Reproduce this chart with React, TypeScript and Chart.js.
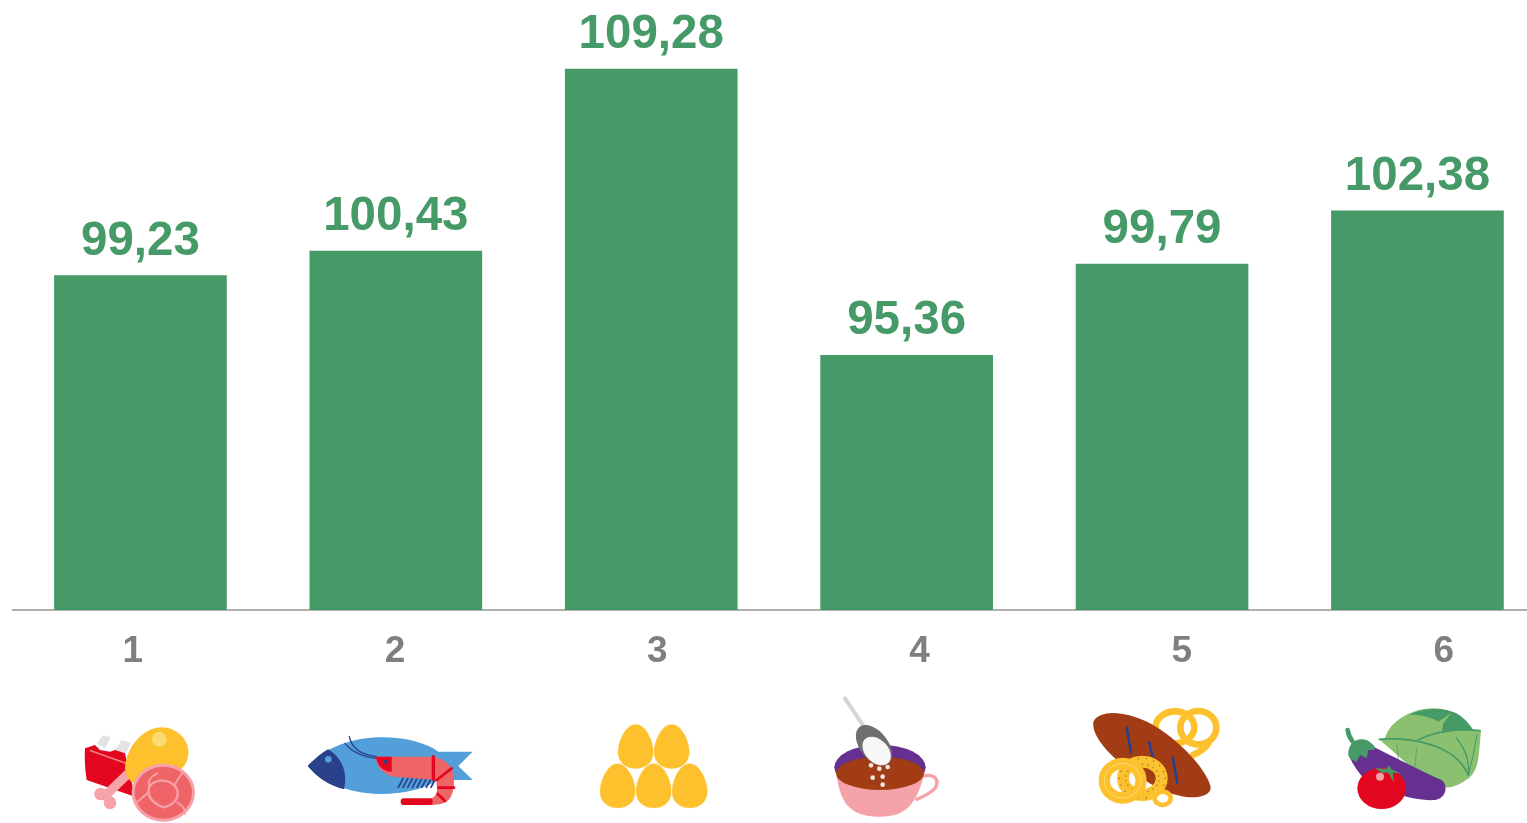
import React, { useEffect, useRef } from "react";
import { Chart, registerables } from "chart.js";

Chart.register(...registerables);

const barPositions = [1, 2, 3, 4, 5, 6];
const barValues = [99.23, 100.43, 109.28, 95.36, 99.79, 102.38];
const tickLabels = [1, 2, 3, 4, 5, 6];

const GREEN = "#469a67";
const GREY = "#7f7f7f";
const YELLOW = "#fdc12d";
const RED = "#e2071f";
const PINK = "#f5a3a8";
const CORAL = "#ee6467";
const BLUE = "#529fd9";
const NAVY = "#29418a";
const BROWN = "#a13c14";
const PURPLE = "#65308f";
const LEAF = "#8ac06f";

type C = CanvasRenderingContext2D;

const fillP = (c: C, d: string, color: string) => {
  c.fillStyle = color;
  c.fill(new Path2D(d));
};
const strokeP = (c: C, d: string, color: string, w: number) => {
  c.strokeStyle = color;
  c.lineWidth = w;
  c.lineCap = "round";
  c.lineJoin = "round";
  c.stroke(new Path2D(d));
};
const circle = (c: C, x: number, y: number, r: number, color: string) => {
  c.fillStyle = color;
  c.beginPath();
  c.arc(x, y, r, 0, Math.PI * 2);
  c.fill();
};
const ellipse = (c: C, x: number, y: number, rx: number, ry: number, rot: number, color: string) => {
  c.fillStyle = color;
  c.beginPath();
  c.ellipse(x, y, rx, ry, rot, 0, Math.PI * 2);
  c.fill();
};
const ring = (c: C, x: number, y: number, rx: number, ry: number, color: string, w: number) => {
  c.strokeStyle = color;
  c.lineWidth = w;
  c.beginPath();
  c.ellipse(x, y, rx, ry, 0, 0, Math.PI * 2);
  c.stroke();
};

// Each icon is drawn in the 3x coordinates of its own crop.
const drawMeat = (c: C) => {
  fillP(c, "M110,160 L130,135 L152,142 L135,175 Z", "#e3e3e3");
  fillP(c, "M165,180 L185,150 L213,158 L195,195 Z", "#e3e3e3");
  fillP(c, "M75,175 L105,165 L120,180 L150,185 L165,180 L195,190 L225,320 L80,270 Q72,220 75,175 Z", RED);
  strokeP(c, "M92,182 L198,220", "#f08080", 5);
  strokeP(c, "M135,318 L200,255", PINK, 28);
  circle(c, 122, 312, 19, PINK);
  circle(c, 150, 338, 19, PINK);
  fillP(c, "M300,112 C350,110 390,150 385,195 C380,240 340,260 250,285 C215,290 195,260 195,230 C200,170 250,115 300,112 Z", YELLOW);
  circle(c, 298, 148, 22, "#fddb72");
  ellipse(c, 310, 308, 95, 87, 0, PINK);
  ellipse(c, 310, 308, 86, 78, 0, CORAL);
  strokeP(c, "M268,290 C285,265 330,265 350,295 C360,320 345,345 310,352 C280,340 258,320 268,290 Z", PINK, 7);
  strokeP(c, "M268,290 C262,268 275,258 292,250", PINK, 6);
  strokeP(c, "M345,285 C350,270 360,260 368,248", PINK, 6);
  strokeP(c, "M265,308 C250,320 240,330 228,338", PINK, 6);
  strokeP(c, "M352,338 C366,345 376,358 374,372", PINK, 6);
};

const drawFish = (c: C) => {
  fillP(c, "M743,228 C800,170 880,142 965,142 C1040,142 1100,160 1135,185 L1238,185 L1195,228 L1238,270 L1135,270 C1090,298 1030,312 965,312 C880,312 800,285 743,228 Z", BLUE);
  fillP(c, "M743,228 C765,205 790,185 805,178 C840,200 865,240 852,298 C810,288 770,262 743,228 Z", NAVY);
  circle(c, 805, 208, 10, BLUE);
  strokeP(c, "M868,140 C875,175 905,195 950,200", NAVY, 4);
  strokeP(c, "M855,160 C875,185 905,200 950,205", NAVY, 4);
  for (let i = 0; i < 8; i++) strokeP(c, `M${1015 + i * 14},292 L${1030 + i * 14},264`, NAVY, 5);
  fillP(c, "M1130,270 L1175,235 C1185,265 1185,300 1170,325 C1155,345 1130,345 1108,345 L1108,325 C1125,325 1135,310 1130,285 Z", CORAL);
  strokeP(c, "M1108,335 L1032,335", RED, 20);
  fillP(c, "M948,200 L1115,200 C1150,205 1165,220 1175,235 L1130,270 L1000,260 C970,250 948,235 948,200 Z", CORAL);
  fillP(c, "M948,200 L995,200 L995,245 C970,245 950,225 948,200 Z", RED);
  circle(c, 977, 215, 6, NAVY);
  strokeP(c, "M1120,200 L1120,268", RED, 10);
  strokeP(c, "M1130,270 L1175,235", RED, 8);
  strokeP(c, "M1135,293 L1182,293", RED, 8);
  strokeP(c, "M1133,312 L1155,333", RED, 8);
};

const egg = (c: C, cx: number, top: number) => {
  const d = `M${cx},${top} C${cx + 30},${top} ${cx + 54},${top + 50} ${cx + 54},${top + 85} C${cx + 54},${top + 115} ${cx + 30},${top + 135} ${cx},${top + 135} C${cx - 30},${top + 135} ${cx - 54},${top + 115} ${cx - 54},${top + 85} C${cx - 54},${top + 50} ${cx - 30},${top} ${cx},${top} Z`;
  fillP(c, d, YELLOW);
  strokeP(c, d, "#ffffff", 1.5);
};

const drawEggs = (c: C) => {
  egg(c, 167, 102);
  egg(c, 275, 102);
  egg(c, 113, 220);
  egg(c, 221, 220);
  egg(c, 329, 220);
};

const drawCup = (c: C) => {
  strokeP(c, "M795,25 L855,115", "#d5d5d5", 12);
  ellipse(c, 900, 232, 137, 68, 0, PURPLE);
  strokeP(c, "M1030,258 C1065,250 1080,270 1065,295 C1050,310 1030,320 1010,328", PINK, 10);
  fillP(c, "M768,245 C780,330 800,380 900,380 C980,380 1010,340 1035,245 Z", PINK);
  ellipse(c, 900, 250, 132, 50, 0, BROWN);
  ellipse(c, 882, 166, 70, 42, 0.9, "#6f6f6f");
  ellipse(c, 890, 183, 50, 34, 0.8, "#f7f7f7");
  const dots = [[873, 226], [898, 236], [923, 231], [878, 263], [908, 260], [908, 284]];
  dots.forEach(([x, y]) => circle(c, x, y, 7, "#f1e6e0"));
};

const drawBread = (c: C) => {
  ring(c, 285, 112, 58, 48, YELLOW, 20);
  ring(c, 355, 113, 54, 50, YELLOW, 20);
  strokeP(c, "M340,195 C360,185 375,175 385,160", YELLOW, 20);
  fillP(c, "M40,95 C60,60 130,60 210,100 C300,150 380,240 392,290 C395,320 340,330 290,315 C200,290 30,170 40,95 Z", BROWN);
  strokeP(c, "M140,112 L153,188", NAVY, 8);
  strokeP(c, "M208,157 L218,203", NAVY, 8);
  strokeP(c, "M278,202 L292,279", NAVY, 8);
  ring(c, 187, 265, 58, 50, YELLOW, 36);
  c.fillStyle = "#7d7550";
  for (let a = 0; a < 36; a++) {
    const t = (a / 36) * Math.PI * 2;
    const r = a % 2 ? 50 : 68;
    c.beginPath();
    c.arc(187 + Math.cos(t) * r, 265 + Math.sin(t) * (r - 8), 2.2, 0, Math.PI * 2);
    c.fill();
  }
  ring(c, 248, 325, 24, 20, YELLOW, 14);
  ring(c, 128, 272, 55, 52, YELLOW, 34);
  ring(c, 128, 272, 55, 52, "#fddb72", 3);
};

const drawVeg = (c: C) => {
  fillP(c, "M915,145 C930,90 1000,55 1060,55 C1120,55 1160,90 1180,120 L1203,122 C1195,200 1200,250 1150,275 C1120,295 1090,295 1060,290 L900,150 Z", LEAF);
  fillP(c, "M985,75 C1030,50 1110,50 1145,80 C1160,92 1172,107 1180,122 C1150,118 1120,118 1085,130 L1090,100 L1115,68 L1075,95 C1050,80 1010,72 985,75 Z", GREEN);
  strokeP(c, "M898,148 C960,140 1030,155 1070,170 C1120,190 1150,220 1165,255", GREEN, 5);
  strokeP(c, "M1015,150 C1060,125 1130,115 1200,122", GREEN, 5);
  strokeP(c, "M1165,255 C1170,210 1150,170 1130,145", GREEN, 4);
  strokeP(c, "M1165,255 C1175,220 1185,170 1190,135", GREEN, 3);
  strokeP(c, "M950,160 L955,210", GREEN, 2);
  strokeP(c, "M1010,175 L1005,230", GREEN, 2);
  fillP(c, "M880,170 C940,200 1040,250 1085,270 C1105,285 1100,325 1065,330 C1000,335 900,300 850,265 C830,240 810,210 805,190 Z", PURPLE);
  strokeP(c, "M803,120 C805,135 810,145 818,155", GREEN, 14);
  fillP(c, "M805,190 C805,160 830,140 860,150 C885,165 890,175 880,180 L865,180 L860,205 L840,195 L830,215 C815,210 805,205 805,190 Z", GREEN);
  ellipse(c, 905, 295, 73, 62, 0, RED);
  circle(c, 900, 260, 12, PINK);
  fillP(c, "M885,235 L920,236 L928,226 L934,238 L962,250 L938,248 L942,278 L925,248 L905,248 Z", GREEN);
};

const icons: [number, number, (c: C) => void][] = [
  [60, 690, drawMeat],
  [60, 690, drawFish],
  [580, 690, drawEggs],
  [580, 690, drawCup],
  [1080, 690, drawBread],
  [1080, 690, drawVeg],
];

const iconPlugin = {
  id: "icons",
  afterDraw(chart: any) {
    const c: C = chart.ctx;
    icons.forEach(([ox, oy, draw]) => {
      c.save();
      c.translate(ox, oy);
      c.scale(1 / 3, 1 / 3);
      draw(c);
      c.restore();
    });
  },
};

const valueLabelPlugin = {
  id: "valueLabels",
  afterDatasetsDraw(chart: any) {
    const c: C = chart.ctx;
    const meta = chart.getDatasetMeta(0);
    c.save();
    c.font = 'bold 47.5px "Liberation Sans", Arial, sans-serif';
    c.fillStyle = GREEN;
    c.textAlign = "center";
    c.textBaseline = "alphabetic";
    meta.data.forEach((bar: any, i: number) => {
      c.fillText(barValues[i].toFixed(2).replace(".", ","), bar.x, bar.y - 21);
    });
    c.restore();
  },
};

export default function App() {
  const ref = useRef<HTMLCanvasElement>(null);
  useEffect(() => {
    document.body.style.margin = "0";
    const chart = new Chart(ref.current!, {
      type: "bar",
      data: {
        datasets: [
          {
            data: barPositions.map((x, i) => ({ x, y: barValues[i] })),
            backgroundColor: GREEN,
            borderWidth: 0,
            barThickness: 172,
            xAxisID: "x",
            yAxisID: "y",
          },
        ],
      },
      options: {
        responsive: false,
        animation: false,
        layout: { padding: { left: 13, right: 0, top: 0, bottom: 0 } },
        plugins: { legend: { display: false }, tooltip: { enabled: false } },
        scales: {
          x: {
            type: "linear",
            display: false,
            min: 0.501,
            max: 6.429,
            offset: false,
          },
          y: {
            display: false,
            min: 82.97,
            max: 112.64,
          },
          x2: {
            type: "linear",
            position: "bottom",
            min: 0.543,
            max: 6.317,
            offset: false,
            afterFit: (s: any) => {
              s.height = 213;
            },
            afterBuildTicks: (s: any) => {
              s.ticks = tickLabels.map((value) => ({ value }));
            },
            grid: { display: false, drawTicks: false },
            border: { display: true, color: "#b0b0b0", width: 2 },
            ticks: {
              autoSkip: false,
              maxRotation: 0,
              padding: 20,
              color: GREY,
              font: { family: '"Liberation Sans", Arial, sans-serif', size: 37, weight: "bold" },
              callback: (v: any) => String(v),
            },
          },
        },
      },
      plugins: [valueLabelPlugin, iconPlugin],
    } as any);
    return () => chart.destroy();
  }, []);
  return (
    <canvas
      ref={ref}
      width={1527}
      height={823}
      style={{ position: "absolute", left: 0, top: 0, display: "block" }}
    />
  );
}
